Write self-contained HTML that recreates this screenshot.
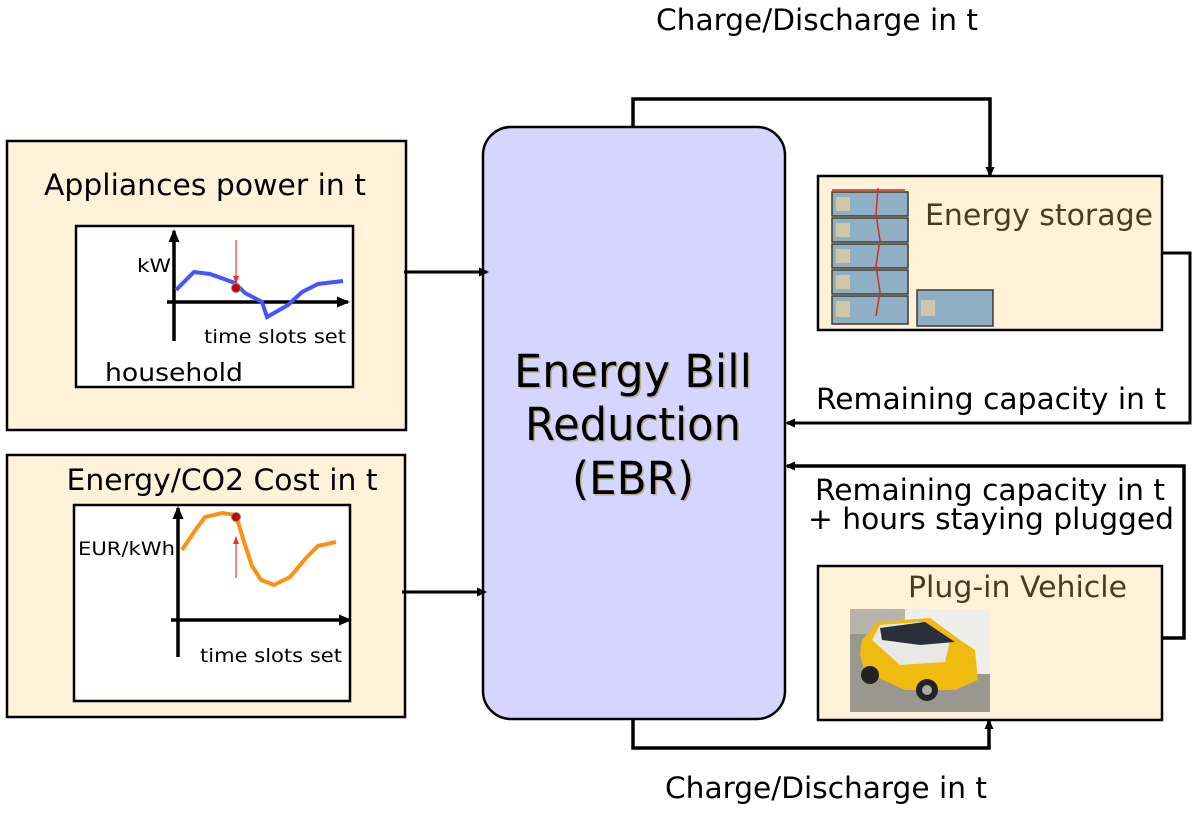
<!DOCTYPE html>
<html><head><meta charset="utf-8"><style>
html,body{margin:0;padding:0;background:#fff;}
svg{display:block;}
text{font-family:"DejaVu Sans","Liberation Sans",sans-serif;}
</style></head><body>
<svg width="1193" height="818" viewBox="0 0 1193 818" xmlns="http://www.w3.org/2000/svg">
<defs>
<marker id="ah" markerWidth="10" markerHeight="10" refX="8" refY="5" orient="auto" markerUnits="userSpaceOnUse">
<path d="M0,0.5 L10,5 L0,9.5 Z" fill="#000"/></marker>
<marker id="ahs" markerWidth="13" markerHeight="12" refX="11" refY="6" orient="auto" markerUnits="userSpaceOnUse">
<path d="M0,0.5 L13,6 L0,11.5 Z" fill="#000"/></marker>
<marker id="ahr" markerWidth="8" markerHeight="8" refX="7" refY="4" orient="auto" markerUnits="userSpaceOnUse">
<path d="M0,1 L8,4 L0,7 Z" fill="#f03030"/></marker>
</defs>

<!-- Box 1 -->
<rect x="7" y="141" width="399" height="289" fill="#fff2d9" stroke="#000" stroke-width="2.5"/>
<text x="205" y="195" font-size="29" text-anchor="middle" textLength="322" lengthAdjust="spacingAndGlyphs">Appliances power in t</text>
<rect x="76" y="226" width="277" height="161" fill="#fff" stroke="#000" stroke-width="2.5"/>
<line x1="174" y1="341" x2="174" y2="231" stroke="#000" stroke-width="3.5" marker-end="url(#ahs)"/>
<line x1="167" y1="302" x2="348" y2="302" stroke="#000" stroke-width="3.5" marker-end="url(#ahs)"/>
<polyline points="176,290 194,272 210,274 235,283 245,293 262,302 267,317 288,305 302,292 318,284 343,281" fill="none" stroke="#4455ff" stroke-width="4"/>
<line x1="236" y1="240" x2="236" y2="283" stroke="#f03030" stroke-width="1.2" marker-end="url(#ahr)"/>
<circle cx="236" cy="288" r="4.5" fill="#cc0000" stroke="#888" stroke-width="1"/>
<text x="137" y="272" font-size="19" textLength="34" lengthAdjust="spacingAndGlyphs">kW</text>
<text x="204" y="343" font-size="19" textLength="142" lengthAdjust="spacingAndGlyphs">time slots set</text>
<text x="105" y="381" font-size="25" textLength="138" lengthAdjust="spacingAndGlyphs">household</text>

<!-- Box 2 -->
<rect x="7" y="455" width="398" height="262" fill="#fff2d9" stroke="#000" stroke-width="2.5"/>
<text x="222" y="490" font-size="29" text-anchor="middle" textLength="311" lengthAdjust="spacingAndGlyphs">Energy/CO2 Cost in t</text>
<rect x="74" y="505" width="276" height="196" fill="#fff" stroke="#000" stroke-width="2.5"/>
<line x1="178" y1="657" x2="178" y2="508" stroke="#000" stroke-width="3.5" marker-end="url(#ahs)"/>
<line x1="171" y1="620" x2="350" y2="620" stroke="#000" stroke-width="3.5" marker-end="url(#ahs)"/>
<polyline points="182,550 194,532 205,517 222,513 236,515 244,542 252,566 261,580 274,585 290,577 306,558 318,546 336,542" fill="none" stroke="#ff9010" stroke-width="4"/>
<line x1="236" y1="578" x2="236" y2="537" stroke="#f03030" stroke-width="1.2" marker-end="url(#ahr)"/>
<circle cx="236" cy="517" r="4.5" fill="#cc0000" stroke="#888" stroke-width="1"/>
<text x="78" y="555" font-size="19" textLength="97" lengthAdjust="spacingAndGlyphs">EUR/kWh</text>
<text x="200" y="662" font-size="19" textLength="142" lengthAdjust="spacingAndGlyphs">time slots set</text>

<!-- EBR -->
<rect x="483" y="127" width="302" height="592" rx="28" ry="28" fill="#d5d5ff" stroke="#000" stroke-width="2.5"/>
<g font-size="45" text-anchor="middle" fill="#b8b08a" transform="translate(1.5,1.5)">
<text x="633" y="387" textLength="238" lengthAdjust="spacingAndGlyphs">Energy Bill</text>
<text x="633" y="440" textLength="216" lengthAdjust="spacingAndGlyphs">Reduction</text>
<text x="633" y="494" textLength="122" lengthAdjust="spacingAndGlyphs">(EBR)</text>
</g>
<g font-size="45" text-anchor="middle" fill="#000">
<text x="633" y="387" textLength="238" lengthAdjust="spacingAndGlyphs">Energy Bill</text>
<text x="633" y="440" textLength="216" lengthAdjust="spacingAndGlyphs">Reduction</text>
<text x="633" y="494" textLength="122" lengthAdjust="spacingAndGlyphs">(EBR)</text>
</g>

<!-- Energy storage -->
<rect x="818" y="176" width="344" height="154" fill="#fff2d9" stroke="#000" stroke-width="2.5"/>
<text x="925" y="225" font-size="29" fill="#4a3b1e" textLength="228" lengthAdjust="spacingAndGlyphs">Energy storage</text>
<g stroke="#3a3a30" stroke-width="1.5">
<rect x="832" y="192" width="76" height="24" fill="#8fb0c4"/>
<rect x="832" y="218" width="76" height="24" fill="#8fb0c4"/>
<rect x="832" y="244" width="76" height="24" fill="#8fb0c4"/>
<rect x="832" y="270" width="76" height="24" fill="#8fb0c4"/>
<rect x="832" y="296" width="76" height="28" fill="#8fb0c4"/>
<rect x="917" y="290" width="76" height="36" fill="#8fb0c4"/>
</g>
<g fill="#cfc7a8"><rect x="836" y="197" width="14" height="14"/><rect x="836" y="223" width="14" height="14"/><rect x="836" y="249" width="14" height="14"/><rect x="836" y="275" width="14" height="14"/><rect x="836" y="301" width="14" height="16"/><rect x="921" y="300" width="14" height="16"/></g>
<polyline points="878,188 876,214 880,240 876,266 880,292 876,316" fill="none" stroke="#d03020" stroke-width="1.5"/>
<line x1="832" y1="190" x2="905" y2="190" stroke="#c03020" stroke-width="1.5"/>

<!-- Plug-in Vehicle -->
<rect x="818" y="566" width="344" height="154" fill="#fff2d9" stroke="#000" stroke-width="2.5"/>
<text x="908" y="597" font-size="29" fill="#4a3b1e" textLength="219" lengthAdjust="spacingAndGlyphs">Plug-in Vehicle</text>
<rect x="850" y="609" width="140" height="103" fill="#9a978f"/>
<rect x="905" y="609" width="85" height="65" fill="#eeeeec"/>
<rect x="850" y="609" width="55" height="25" fill="#b8b4ac"/>
<path d="M862,640 L878,622 L930,618 L960,640 L975,650 L978,680 L955,690 L905,690 L865,672 L860,655 Z" fill="#f0bb10"/>
<path d="M872,640 L880,625 L920,622 L950,640 L945,662 L900,665 Z" fill="#e8e8e6"/>
<path d="M880,628 L925,622 L955,642 L920,645 L882,640 Z" fill="#2a2f3a"/>
<circle cx="870" cy="675" r="9" fill="#222"/>
<circle cx="927" cy="690" r="11" fill="#222"/>
<circle cx="927" cy="690" r="5" fill="#aaa"/>

<!-- Connectors -->
<line x1="404" y1="272" x2="487" y2="272" stroke="#000" stroke-width="3" marker-end="url(#ah)"/>
<line x1="402" y1="592" x2="485" y2="592" stroke="#000" stroke-width="3" marker-end="url(#ah)"/>
<polyline points="633,128 633,99 990,99 990,175" fill="none" stroke="#000" stroke-width="3.5" marker-end="url(#ah)"/>
<polyline points="1162,253 1190,253 1190,423 787,423" fill="none" stroke="#000" stroke-width="3" marker-end="url(#ah)"/>
<polyline points="1162,638 1184,638 1184,466 787,466" fill="none" stroke="#000" stroke-width="3.5" marker-end="url(#ah)"/>
<polyline points="633,719 633,748 989,748 989,721" fill="none" stroke="#000" stroke-width="3.5" marker-end="url(#ah)"/>

<!-- labels -->
<text x="817" y="30" font-size="29" text-anchor="middle" textLength="322" lengthAdjust="spacingAndGlyphs">Charge/Discharge in t</text>
<text x="826" y="798" font-size="29" text-anchor="middle" textLength="322" lengthAdjust="spacingAndGlyphs">Charge/Discharge in t</text>
<text x="991" y="409" font-size="29" text-anchor="middle" textLength="350" lengthAdjust="spacingAndGlyphs">Remaining capacity in t</text>
<text x="990" y="500" font-size="29" text-anchor="middle" textLength="350" lengthAdjust="spacingAndGlyphs">Remaining capacity in t</text>
<text x="991" y="529" font-size="29" text-anchor="middle" textLength="366" lengthAdjust="spacingAndGlyphs">+ hours staying plugged</text>
</svg>
</body></html>
